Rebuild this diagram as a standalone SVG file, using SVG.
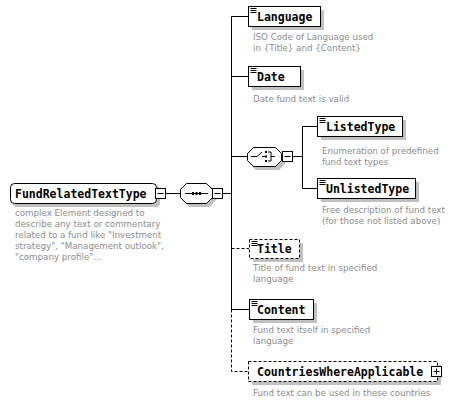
<svg xmlns="http://www.w3.org/2000/svg" width="451" height="403" viewBox="0 0 451 403">
<style>
.bg{fill:#fff}
.box{fill:#fff;stroke:#000;stroke-width:1}
.dash{stroke-dasharray:3,2}
.shadow{fill:#c0c0c0}
.line{stroke:#000;stroke-width:1;fill:none}
.lbl{font-family:"DejaVu Sans Mono",monospace;font-weight:bold;font-size:11.5px;fill:#000}
.desc{font-family:"DejaVu Sans","Liberation Sans",sans-serif;font-size:8.7px;fill:#8c8c8c}
</style>
<defs>
<g id="ticon"><path d="M2.5 2.5h6M2.5 4.5h6M2.5 6.5h6" stroke="#000" stroke-width="1"/></g>
<g id="minus"><rect x="0.5" y="0.5" width="10" height="10" fill="#fff" stroke="#000"/><path d="M2.5 5.5h6" stroke="#000"/></g>
<g id="plus"><rect x="0.5" y="0.5" width="10" height="10" fill="#fff" stroke="#000"/><path d="M2.5 5.5h6M5.5 2.5v6" stroke="#000"/></g>
</defs>
<rect class="bg" width="451" height="403"/>
<g id="connectors">
<path class="line" d="M166 193.5H180M222 193.5H231.5"/>
<path class="line" d="M231.5 16.5V309.5"/>
<path class="line dash" d="M231.5 309.5V371.5H248"/>
<path class="line" d="M231.5 16.5H248M231.5 76.5H248M231.5 156.5H247M231.5 309.5H249"/>
<path class="line dash" d="M231.5 248.5H249"/>
<path class="line" d="M293 156.5H302.5M302.5 126.5V188.5M302.5 126.5H317M302.5 188.5H317"/>
</g>
<g id="FundRelatedTextType">
<rect class="shadow" x="13" y="186" width="147" height="21" rx="4"/>
<rect class="box" x="10.5" y="183.5" width="146" height="20" rx="4"/>
<text class="lbl" x="15" y="197.5">FundRelatedTextType</text>
<use href="#minus" x="155" y="188"/>
<text class="desc"><tspan x="15" y="216">complex Element designed to</tspan><tspan x="15" y="227">describe any text or commentary</tspan><tspan x="15" y="238">related to a fund like "Investment</tspan><tspan x="15" y="249">strategy", "Management outlook",</tspan><tspan x="15" y="260">"company profile"...</tspan></text>
</g>
<g id="sequence">
<path class="shadow" d="M189 186H210L216 192V200L210 207H189L183 200V192Z"/>
<path class="box" d="M186.5 183.5H206.5L212.5 189.5V197.5L206.5 203.5H186.5L180.5 197.5V189.5Z"/>
<path d="M185 193.5H208" stroke="#000"/>
<rect x="192" y="192" width="2" height="3" fill="#000"/><rect x="195.5" y="192" width="2" height="3" fill="#000"/><rect x="199" y="192" width="2" height="3" fill="#000"/>
<use href="#minus" x="212" y="188"/>
</g>
<g id="Language">
<rect class="shadow" x="252" y="10" width="72" height="20"/>
<rect class="box" x="248.5" y="6.5" width="72" height="20"/>
<use href="#ticon" x="248" y="6"/>
<text class="lbl" x="257" y="21">Language</text>
<text class="desc"><tspan x="253" y="40">ISO Code of Language used</tspan><tspan x="253" y="51">in {Title} and {Content}</tspan></text>
</g>
<g id="Date">
<rect class="shadow" x="252" y="70" width="52" height="20"/>
<rect class="box" x="248.5" y="66.5" width="52" height="20"/>
<use href="#ticon" x="248" y="66"/>
<text class="lbl" x="257" y="81">Date</text>
<text class="desc" x="253" y="102">Date fund text is valid</text>
</g>
<g id="choice">
<path class="shadow" d="M256 151H279L285 157V164L279 170H256L250 164V157Z"/>
<path class="box" d="M253.5 147.5H275.5L281.5 153.5V160.5L275.5 166.5H253.5L247.5 160.5V153.5Z"/>
<path d="M251 156.5H257L262 152M262 156.5H265" stroke="#000" fill="none"/>
<rect x="265" y="151" width="2" height="2" fill="#000"/><rect x="265" y="155.5" width="2" height="2" fill="#000"/><rect x="265" y="160" width="2" height="2" fill="#000"/>
<path d="M268 152H271V161H268M271 156.5H275" stroke="#000" fill="none"/>
<use href="#minus" x="282" y="151"/>
</g>
<g id="ListedType">
<rect class="shadow" x="321" y="120" width="85" height="20"/>
<rect class="box" x="317.5" y="116.5" width="85" height="20"/>
<use href="#ticon" x="317" y="116"/>
<text class="lbl" x="326" y="131">ListedType</text>
<text class="desc"><tspan x="322" y="154">Enumeration of predefined</tspan><tspan x="322" y="165">fund text types</tspan></text>
</g>
<g id="UnlistedType">
<rect class="shadow" x="321" y="182" width="98" height="20"/>
<rect class="box" x="317.5" y="178.5" width="98" height="20"/>
<use href="#ticon" x="317" y="178"/>
<text class="lbl" x="326" y="193">UnlistedType</text>
<text class="desc"><tspan x="322" y="213">Free description of fund text</tspan><tspan x="322" y="224">(for those not listed above)</tspan></text>
</g>
<g id="Title">
<rect class="shadow" x="253" y="243" width="50" height="19"/>
<rect class="box dash" x="249.5" y="239.5" width="50" height="19"/>
<use href="#ticon" x="249" y="239"/>
<text class="lbl" x="257" y="253">Title</text>
<text class="desc"><tspan x="253" y="271">Title of fund text in specified</tspan><tspan x="253" y="282">language</tspan></text>
</g>
<g id="Content">
<rect class="shadow" x="253" y="303" width="64" height="20"/>
<rect class="box" x="249.5" y="299.5" width="64" height="20"/>
<use href="#ticon" x="249" y="299"/>
<text class="lbl" x="257" y="314">Content</text>
<text class="desc"><tspan x="253" y="333">Fund text itself in specified</tspan><tspan x="253" y="344">language</tspan></text>
</g>
<g id="CountriesWhereApplicable">
<rect class="shadow" x="252" y="365" width="189" height="20"/>
<rect class="box dash" x="248.5" y="361.5" width="189" height="20"/>
<text class="lbl" x="257" y="376">CountriesWhereApplicable</text>
<use href="#plus" x="431" y="366"/>
<text class="desc" x="253" y="396">Fund text can be used in these countries</text>
</g>
</svg>
